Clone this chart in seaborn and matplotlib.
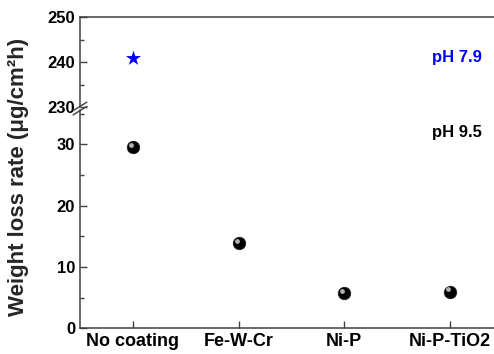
import numpy as np
import pandas as pd
import matplotlib
matplotlib.use("Agg")
import matplotlib.pyplot as plt
import matplotlib.transforms as mtransforms
from matplotlib.lines import Line2D
from matplotlib.ticker import MultipleLocator
import seaborn as sns

# data
coatings = ["No coating", "Fe-W-Cr", "Ni-P", "Ni-P-TiO2"]
rate_ph95 = [29.6, 13.9, 5.7, 6.0]
coating_ph79 = ["No coating"]
rate_ph79 = [241.0]

sns.set_theme(style="ticks")
plt.rcParams['font.family'] = ['Liberation Sans', 'DejaVu Sans']
plt.rcParams['font.weight'] = 'bold'

df95 = pd.DataFrame({"x": [coatings.index(c) for c in coatings], "rate": rate_ph95})
df79 = pd.DataFrame({"x": [coatings.index(c) for c in coating_ph79], "rate": rate_ph79})

fig = plt.figure(figsize=(4.94, 3.54), dpi=100)
L, W = 0.162, 0.856
ax_top = fig.add_axes([L, 0.697, W, 0.254])
ax_bot = fig.add_axes([L, 0.0726, W, 0.6167])

spine_c = '#404040'

# bottom panel: pH 9.5 spheres
sns.scatterplot(data=df95, x="x", y="rate", ax=ax_bot, color='black', s=80,
                edgecolor='#202020', linewidth=0.6, zorder=3, legend=False)
hl = mtransforms.offset_copy(ax_bot.transData, fig=fig, x=-1.5, y=1.5, units='points')
ax_bot.scatter(df95["x"], df95["rate"], s=12, color='#b0b0b0', transform=hl,
               zorder=4, linewidths=0)

# top panel: pH 7.9 star
sns.scatterplot(data=df79, x="x", y="rate", ax=ax_top, color='blue', marker='*',
                s=130, linewidth=0, zorder=3, legend=False)

for ax in (ax_top, ax_bot):
    ax.set_xlim(-0.5, 3.5)
    ax.set_xlabel("")
    ax.set_ylabel("")
    ax.spines['right'].set_visible(False)
    for s in ax.spines.values():
        s.set_color(spine_c)
        s.set_linewidth(1.1)
    ax.tick_params(direction='in', colors=spine_c, labelcolor='black',
                   length=5, width=1, labelsize=12)
    ax.tick_params(which='minor', direction='in', colors=spine_c, length=3, width=1)

ax_top.set_ylim(230, 250)
ax_top.yaxis.set_major_locator(MultipleLocator(10))
ax_top.yaxis.set_minor_locator(MultipleLocator(5))
ax_top.spines['bottom'].set_visible(False)
ax_top.set_xticks([])

ax_bot.set_ylim(0, 35.6)
ax_bot.yaxis.set_major_locator(MultipleLocator(10))
ax_bot.yaxis.set_minor_locator(MultipleLocator(5))
ax_bot.spines['top'].set_visible(False)
ax_bot.set_xticks(range(len(coatings)))
ax_bot.set_xticklabels(coatings, fontsize=13, fontweight='bold')
for t in ax_top.get_yticklabels() + ax_bot.get_yticklabels():
    t.set_fontweight('bold')

ax_top.text(3.07, 241, "pH 7.9", color='blue', fontsize=12, fontweight='bold',
            ha='center', va='center')
ax_bot.text(3.07, 31.9, "pH 9.5", color='black', fontsize=12, fontweight='bold',
            ha='center', va='center')

fig.text(0.038, 0.50, "Weight loss rate (μg/cm²h)", rotation=90, fontsize=16,
         fontweight='bold', ha='center', va='center')

# axis break marks
yb = 1 - 108.5 / 354
for dy in (-0.006, 0.006):
    fig.add_artist(Line2D([L - 0.014, L + 0.014], [yb + dy - 0.012, yb + dy + 0.012],
                          color=spine_c, lw=1.0))

fig.savefig("out.png", dpi=100)
